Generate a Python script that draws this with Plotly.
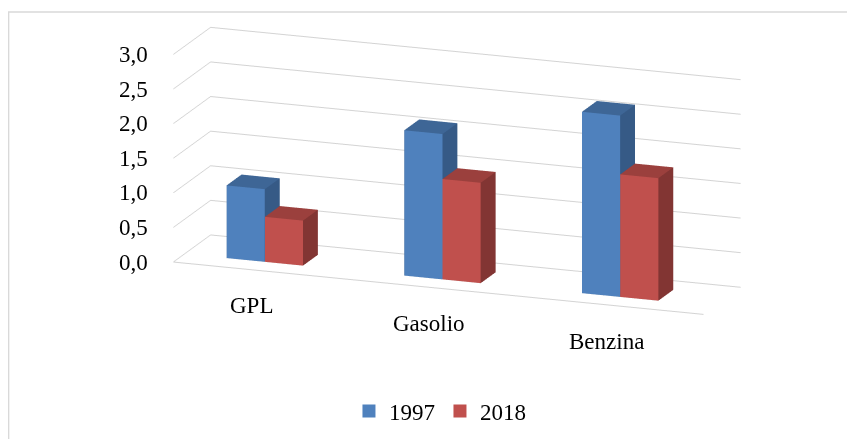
import plotly.graph_objects as go

categories = ["GPL", "Gasolio", "Benzina"]
series_names = ["1997", "2018"]
values_1997 = [1.05, 2.10, 2.62]
values_2018 = [0.65, 1.45, 1.77]
z_tick_vals = [0.0, 0.5, 1.0, 1.5, 2.0, 2.5, 3.0]
z_tick_labels = ["0,0", "0,5", "1,0", "1,5", "2,0", "2,5", "3,0"]

front_colors = ["#4F81BD", "#C0504D"]
top_colors = ["#3E6696", "#9B403D"]
side_colors = ["#365A86", "#823533"]

BAR_W = 0.215          # bar width in category units
Y0, Y1 = 0.3, 0.7      # bar depth inside the floor
X_RANGE = [0.0481, 3.0314]
FONT = "Liberation Serif"
W, H = 847, 431


def cuboids(values, series_index, fc, tc, sc):
    xs, ys, zs, I, J, K, cols = [], [], [], [], [], [], []
    for ci, v in enumerate(values):
        center = ci + 0.5
        x0 = center - BAR_W if series_index == 0 else center
        x1 = x0 + BAR_W
        b = len(xs)
        pts = [(x0, Y0, 0), (x1, Y0, 0), (x1, Y1, 0), (x0, Y1, 0),
               (x0, Y0, v), (x1, Y0, v), (x1, Y1, v), (x0, Y1, v)]
        for q in pts:
            xs.append(q[0]); ys.append(q[1]); zs.append(q[2])
        faces = [((0, 1, 5), fc), ((0, 5, 4), fc),      # front
                 ((3, 2, 6), sc), ((3, 6, 7), sc),      # back
                 ((0, 3, 7), sc), ((0, 7, 4), sc),      # left
                 ((1, 2, 6), sc), ((1, 6, 5), sc),      # right
                 ((4, 5, 6), tc), ((4, 6, 7), tc),      # top
                 ((0, 1, 2), sc), ((0, 2, 3), sc)]      # bottom
        for (a, bb, c), col in faces:
            I.append(b + a); J.append(b + bb); K.append(b + c); cols.append(col)
    return xs, ys, zs, I, J, K, cols


fig = go.Figure()
for si, vals in enumerate([values_1997, values_2018]):
    xs, ys, zs, I, J, K, cols = cuboids(vals, si, front_colors[si], top_colors[si], side_colors[si])
    fig.add_trace(go.Mesh3d(
        x=xs, y=ys, z=zs, i=I, j=J, k=K, facecolor=cols, flatshading=True,
        lighting=dict(ambient=1.0, diffuse=0.0, specular=0.0, roughness=1.0, fresnel=0.0),
        hoverinfo="skip", showlegend=False, name=series_names[si], scene="scene"))

# legend entries
for si, name in enumerate(series_names):
    fig.add_trace(go.Scatter(x=[None], y=[None], mode="markers", name=name,
                             marker=dict(symbol="square", size=13, color=front_colors[si]),
                             showlegend=True))

# flat text labels anchored at 3D positions
scene_annotations = []
for v, lab in zip(z_tick_vals, z_tick_labels):
    scene_annotations.append(dict(x=X_RANGE[0] + 0.001, y=0, z=v, text=lab, showarrow=False,
                                  xanchor="right", yanchor="middle", xshift=-24,
                                  font=dict(family=FONT, size=23, color="black")))
for ci, lab in enumerate(categories):
    scene_annotations.append(dict(x=ci + 0.5, y=0, z=0, text=lab, showarrow=False,
                                  xanchor="center", yanchor="middle", xshift=-2, yshift=-36,
                                  font=dict(family=FONT, size=23, color="black")))

axis_common = dict(showbackground=False, zeroline=False, ticks="", showspikes=False,
                   showticklabels=False, title=dict(text=""))
fig.update_layout(
    width=W, height=H,
    margin=dict(l=0, r=0, t=0, b=0),
    paper_bgcolor="white", plot_bgcolor="rgba(0,0,0,0)",
    font=dict(family=FONT, size=23, color="black"),
    xaxis=dict(visible=False, domain=[0, 0.01]),
    yaxis=dict(visible=False, domain=[0, 0.01]),
    scene=dict(
        domain=dict(x=[0, 1], y=[0, 1]),
        xaxis=dict(range=X_RANGE, tickvals=[0.5, 1.5, 2.5], ticktext=categories,
                   showgrid=False, showline=True, linecolor="#D3D3D3", linewidth=2,
                   **axis_common),
        yaxis=dict(range=[0, 1], showgrid=False, showline=False, **axis_common),
        zaxis=dict(range=[0, 3], tickvals=z_tick_vals, ticktext=z_tick_labels,
                   showgrid=True, gridcolor="#D3D3D3", gridwidth=2, showline=False,
                   **axis_common),
        aspectmode="manual", aspectratio=dict(x=2.6212, y=0.4999, z=1.0),
        camera=dict(eye=dict(x=0.7036, y=-2.2528, z=0.4021),
                    center=dict(x=-0.1037, y=-0.0608, z=-0.2477),
                    up=dict(x=0, y=0, z=1), projection=dict(type="orthographic")),
        annotations=scene_annotations,
    ),
    legend=dict(orientation="h", x=0.51, xanchor="center", y=1 - 403 / 431, yanchor="middle",
                font=dict(family=FONT, size=23, color="black"), bgcolor="rgba(0,0,0,0)"),
    shapes=[dict(type="rect", xref="paper", yref="paper", x0=0.6 / W, x1=1.05,
                 y0=-0.05, y1=1 - 4 / H, line=dict(color="#D9D9D9", width=1.5),
                 fillcolor="rgba(0,0,0,0)", layer="below")],
)
fig.write_html("out.html")
